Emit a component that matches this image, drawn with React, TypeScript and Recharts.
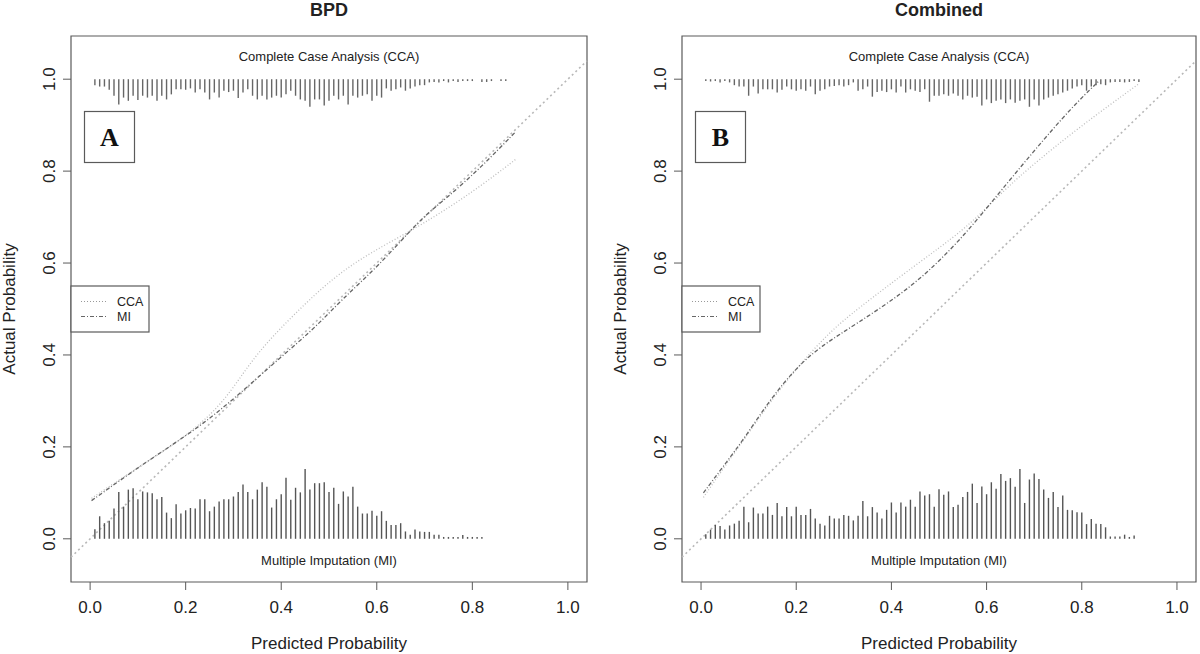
import React from "react";
import { ComposedChart, Line, XAxis, YAxis, ReferenceLine, ReferenceArea } from "recharts";

const FONT = "'Liberation Sans', Arial, Helvetica, sans-serif";

const xTicks = [0, 0.2, 0.4, 0.6, 0.8, 1];
const yTicks = [0, 0.2, 0.4, 0.6, 0.8, 1];
const idealLine = [
  { x: -0.04, y: -0.04 },
  { x: 1.04, y: 1.04 },
];

// rug bins start at 0.01 and step 0.01
const binStart = 0.01;
const binStep = 0.01;

// Panel A (BPD)
const bpdMiRug = [
  0.021, 0.049, 0.034, 0.039, 0.066, 0.102, 0.07, 0.107, 0.11, 0.086, 0.103, 0.101, 0.099, 0.086, 0.091,
  0.057, 0.045, 0.075, 0.055, 0.062, 0.067, 0.066, 0.086, 0.086, 0.06, 0.07, 0.081, 0.086, 0.086, 0.092,
  0.102, 0.118, 0.102, 0.086, 0.107, 0.123, 0.113, 0.068, 0.086, 0.097, 0.133, 0.085, 0.111, 0.101, 0.152,
  0.107, 0.121, 0.121, 0.123, 0.102, 0.111, 0.076, 0.103, 0.092, 0.113, 0.07, 0.055, 0.055, 0.061, 0.05,
  0.06, 0.039, 0.03, 0.03, 0.034, 0.016, 0.009, 0.02, 0.016, 0.015, 0.015, 0.009, 0.009, 0.004, 0.004,
  0.004, 0.004, 0.008, 0.004, 0.004, 0.004, 0.004,
];
const bpdCcaRug = [
  0.013, 0.016, 0.016, 0.023, 0.036, 0.055, 0.04, 0.047, 0.036, 0.045, 0.036, 0.04, 0.036, 0.047, 0.036,
  0.044, 0.033, 0.022, 0.022, 0.023, 0.02, 0.029, 0.022, 0.029, 0.044, 0.029, 0.04, 0.025, 0.028, 0.025,
  0.041, 0.029, 0.022, 0.036, 0.044, 0.036, 0.044, 0.04, 0.036, 0.04, 0.033, 0.025, 0.036, 0.044, 0.047,
  0.06, 0.044, 0.044, 0.057, 0.047, 0.036, 0.044, 0.036, 0.055, 0.036, 0.04, 0.036, 0.033, 0.047, 0.036,
  0.04, 0.02, 0.025, 0.022, 0.018, 0.025, 0.02, 0.016, 0.013, 0.013, 0.007, 0.006, 0.007, 0.004, 0.007,
  0.004, 0.006, 0.004, 0.004, 0.004, 0, 0.006, 0.006, 0.004, 0, 0.004, 0.004,
];
const bpdMiCurve = [
  { x: 0.003, y: 0.083 }, { x: 0.05, y: 0.118 }, { x: 0.13, y: 0.176 }, { x: 0.22, y: 0.237 },
  { x: 0.3, y: 0.303 }, { x: 0.385, y: 0.383 }, { x: 0.467, y: 0.455 }, { x: 0.527, y: 0.521 },
  { x: 0.61, y: 0.6 }, { x: 0.69, y: 0.695 }, { x: 0.745, y: 0.74 }, { x: 0.82, y: 0.81 },
  { x: 0.89, y: 0.885 },
];
const bpdCcaCurve = [
  { x: 0.003, y: 0.088 }, { x: 0.1, y: 0.155 }, { x: 0.2, y: 0.222 }, { x: 0.272, y: 0.288 },
  { x: 0.32, y: 0.36 }, { x: 0.362, y: 0.419 }, { x: 0.437, y: 0.499 }, { x: 0.512, y: 0.571 },
  { x: 0.587, y: 0.623 }, { x: 0.677, y: 0.673 }, { x: 0.75, y: 0.72 }, { x: 0.817, y: 0.767 },
  { x: 0.89, y: 0.825 },
];

// Panel B (Combined)
const combMiRug = [
  0.01, 0.02, 0.03, 0.028, 0.02, 0.029, 0.033, 0.039, 0.07, 0.036, 0.068, 0.055, 0.055, 0.07, 0.052,
  0.078, 0.049, 0.069, 0.049, 0.07, 0.052, 0.052, 0.065, 0.044, 0.033, 0.029, 0.05, 0.044, 0.044, 0.052,
  0.05, 0.04, 0.05, 0.082, 0.049, 0.069, 0.057, 0.044, 0.063, 0.079, 0.057, 0.079, 0.07, 0.085, 0.07,
  0.103, 0.094, 0.097, 0.07, 0.108, 0.096, 0.103, 0.069, 0.074, 0.091, 0.102, 0.12, 0.078, 0.114, 0.097,
  0.123, 0.109, 0.141, 0.126, 0.132, 0.113, 0.152, 0.078, 0.129, 0.142, 0.13, 0.107, 0.089, 0.102, 0.069,
  0.094, 0.063, 0.062, 0.058, 0.057, 0.032, 0.043, 0.033, 0.032, 0.025, 0.005, 0.005, 0.005, 0.009, 0.004,
  0.007,
];
const combCcaRug = [
  0.004, 0.005, 0.004, 0.007, 0.004, 0.007, 0.013, 0.016, 0.016, 0.036, 0.016, 0.031, 0.022, 0.022, 0.022,
  0.029, 0.023, 0.016, 0.022, 0.025, 0.022, 0.025, 0.016, 0.033, 0.025, 0.022, 0.016, 0.015, 0.013, 0.016,
  0.013, 0.007, 0.025, 0.022, 0.016, 0.038, 0.028, 0.025, 0.028, 0.022, 0.029, 0.016, 0.029, 0.022, 0.025,
  0.028, 0.022, 0.049, 0.036, 0.036, 0.033, 0.036, 0.031, 0.036, 0.044, 0.036, 0.04, 0.038, 0.057, 0.044,
  0.052, 0.047, 0.044, 0.052, 0.044, 0.051, 0.047, 0.044, 0.06, 0.044, 0.057, 0.044, 0.04, 0.036, 0.033,
  0.029, 0.025, 0.02, 0.016, 0.013, 0.025, 0.016, 0.013, 0.011, 0.013, 0.007, 0.006, 0.006, 0.007, 0.006,
  0.004, 0.006,
];
const combMiCurve = [
  { x: 0.005, y: 0.1 }, { x: 0.05, y: 0.162 }, { x: 0.092, y: 0.22 }, { x: 0.145, y: 0.303 },
  { x: 0.2, y: 0.372 }, { x: 0.25, y: 0.418 }, { x: 0.327, y: 0.468 }, { x: 0.425, y: 0.535 },
  { x: 0.493, y: 0.596 }, { x: 0.554, y: 0.662 }, { x: 0.607, y: 0.728 }, { x: 0.7, y: 0.845 },
  { x: 0.78, y: 0.94 }, { x: 0.835, y: 0.995 },
];
const combCcaCurve = [
  { x: 0.005, y: 0.09 }, { x: 0.05, y: 0.158 }, { x: 0.1, y: 0.23 }, { x: 0.15, y: 0.305 },
  { x: 0.205, y: 0.376 }, { x: 0.27, y: 0.45 }, { x: 0.327, y: 0.499 }, { x: 0.447, y: 0.593 },
  { x: 0.554, y: 0.673 }, { x: 0.614, y: 0.735 }, { x: 0.68, y: 0.8 }, { x: 0.8, y: 0.9 },
  { x: 0.92, y: 0.99 },
];

const W = 600;
const H = 654;
const PLOT_TOP = 36;
const PLOT_BOTTOM = 582;
const AXIS_GRAY = "#5a5a5a";
const TEXT = "#222";

const XTick = (props: any) => (
  <text x={props.x} y={613} textAnchor="middle" fontSize={17} fontFamily={FONT} fill={TEXT}>
    {Number(props.payload.value).toFixed(1)}
  </text>
);

const makeYTick = (plotL: number) => (props: any) => {
  const tx = plotL - 16;
  return (
    <text
      x={tx}
      y={props.y}
      transform={`rotate(-90, ${tx}, ${props.y})`}
      textAnchor="middle"
      fontSize={17}
      fontFamily={FONT}
      fill={TEXT}
    >
      {Number(props.payload.value).toFixed(1)}
    </text>
  );
};

type PanelProps = {
  left: number;
  yAxisWidth: number;
  marginRight: number;
  title: string;
  letter: string;
  miCurve: { x: number; y: number }[];
  ccaCurve: { x: number; y: number }[];
  miRug: number[];
  ccaRug: number[];
};

const Panel = ({ left, yAxisWidth, marginRight, title, letter, miCurve, ccaCurve, miRug, ccaRug }: PanelProps) => {
  const plotL = yAxisWidth;
  const plotR = W - marginRight;
  const cx = (plotL + plotR) / 2;
  const midY = (PLOT_TOP + PLOT_BOTTOM) / 2;
  return (
    <div style={{ position: "absolute", left, top: 0, width: W, height: H }}>
      <ComposedChart width={W} height={H} margin={{ top: PLOT_TOP, right: marginRight, bottom: 0, left: 0 }}>
        <XAxis
          type="number"
          dataKey="x"
          domain={[-0.04, 1.04]}
          ticks={xTicks}
          allowDataOverflow
          height={H - PLOT_BOTTOM}
          tickSize={8}
          axisLine={false}
          tickLine={{ stroke: AXIS_GRAY }}
          tick={<XTick />}
        />
        <YAxis
          type="number"
          dataKey="y"
          domain={[-0.094, 1.094]}
          ticks={yTicks}
          allowDataOverflow
          width={yAxisWidth}
          tickSize={8}
          axisLine={false}
          tickLine={{ stroke: AXIS_GRAY }}
          tick={makeYTick(plotL)}
        />
        <ReferenceArea x1={-0.04} x2={1.04} y1={-0.094} y2={1.094} fill="none" stroke={AXIS_GRAY} strokeWidth={1.2} />
        <ReferenceLine segment={idealLine} stroke="#b8b8b8" strokeWidth={1.6} strokeDasharray="2 3" />
        {miRug.map((h, i) =>
          h > 0 ? (
            <ReferenceLine
              key={`m${i}`}
              segment={[
                { x: binStart + i * binStep, y: 0 },
                { x: binStart + i * binStep, y: h },
              ]}
              stroke="#555"
              strokeWidth={1.4}
            />
          ) : null
        )}
        {ccaRug.map((h, i) =>
          h > 0 ? (
            <ReferenceLine
              key={`c${i}`}
              segment={[
                { x: binStart + i * binStep, y: 1 },
                { x: binStart + i * binStep, y: 1 - h },
              ]}
              stroke="#666"
              strokeWidth={1.4}
            />
          ) : null
        )}
        <Line
          data={ccaCurve}
          dataKey="y"
          type="basis"
          stroke="#bdbdbd"
          strokeWidth={1.3}
          strokeDasharray="1 2"
          dot={false}
          isAnimationActive={false}
        />
        <Line
          data={miCurve}
          dataKey="y"
          type="basis"
          stroke="#666"
          strokeWidth={1.3}
          strokeDasharray="4 2 1 2"
          dot={false}
          isAnimationActive={false}
        />
      </ComposedChart>
      <svg width={W} height={H} style={{ position: "absolute", left: 0, top: 0, pointerEvents: "none" }}>
        <text x={cx} y={16} textAnchor="middle" fontSize={18} fontWeight="bold" fontFamily={FONT} fill={TEXT}>
          {title}
        </text>
        <text x={cx} y={61} textAnchor="middle" fontSize={13} fontFamily={FONT} fill={TEXT}>
          Complete Case Analysis (CCA)
        </text>
        <text x={cx} y={565} textAnchor="middle" fontSize={13} fontFamily={FONT} fill={TEXT}>
          Multiple Imputation (MI)
        </text>
        <text x={cx} y={649} textAnchor="middle" fontSize={17} fontFamily={FONT} fill={TEXT}>
          Predicted Probability
        </text>
        <text
          x={plotL - 56}
          y={midY}
          transform={`rotate(-90, ${plotL - 56}, ${midY})`}
          textAnchor="middle"
          fontSize={17}
          fontFamily={FONT}
          fill={TEXT}
        >
          Actual Probability
        </text>
        <rect x={plotL + 13.5} y={111.5} width={50} height={51} fill="#fff" stroke={AXIS_GRAY} strokeWidth={1.2} />
        <text
          x={plotL + 38.5}
          y={146}
          textAnchor="middle"
          fontSize={26}
          fontWeight="bold"
          fontFamily="'Liberation Serif', 'Times New Roman', serif"
          fill="#111"
        >
          {letter}
        </text>
        <rect x={plotL} y={286} width={78} height={46} fill="#fff" stroke={AXIS_GRAY} strokeWidth={1.2} />
        <line x1={plotL + 10} x2={plotL + 35} y1={301.5} y2={301.5} stroke="#999" strokeWidth={1.2} strokeDasharray="1 2" />
        <line x1={plotL + 10} x2={plotL + 35} y1={316.5} y2={316.5} stroke="#666" strokeWidth={1.2} strokeDasharray="4 2 1 2" />
        <text x={plotL + 46} y={306} fontSize={12.5} fontFamily={FONT} fill={TEXT}>
          CCA
        </text>
        <text x={plotL + 46} y={321} fontSize={12.5} fontFamily={FONT} fill={TEXT}>
          MI
        </text>
      </svg>
    </div>
  );
}

export default function App() {
  return (
    <div style={{ position: "absolute", left: 0, top: 0, width: 1200, height: 654, background: "#fff", overflow: "hidden" }}>
      <Panel
        left={0}
        yAxisWidth={71}
        marginRight={13}
        title="BPD"
        letter="A"
        miCurve={bpdMiCurve}
        ccaCurve={bpdCcaCurve}
        miRug={bpdMiRug}
        ccaRug={bpdCcaRug}
      />
      <Panel
        left={600}
        yAxisWidth={82}
        marginRight={4}
        title="Combined"
        letter="B"
        miCurve={combMiCurve}
        ccaCurve={combCcaCurve}
        miRug={combMiRug}
        ccaRug={combCcaRug}
      />
    </div>
  );
}
